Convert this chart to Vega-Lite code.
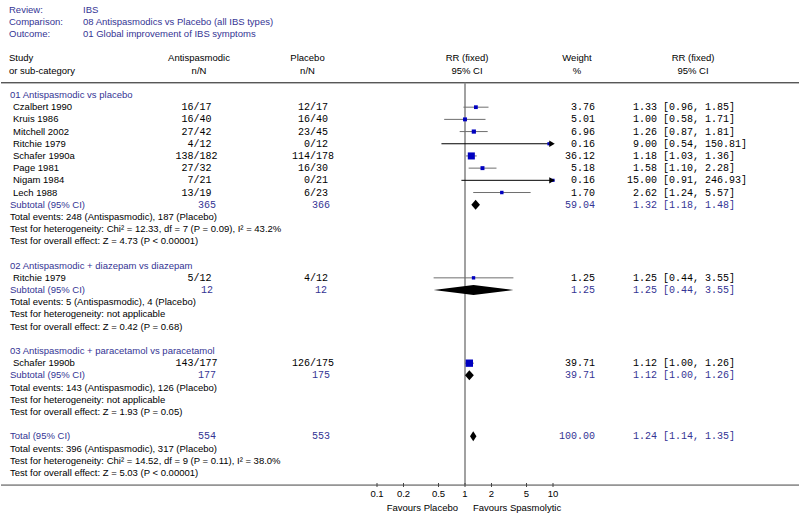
{
  "$schema": "https://vega.github.io/schema/vega-lite/v6.json",
  "width": 800,
  "height": 518,
  "autosize": {"type": "fit", "contains": "padding"},
  "padding": 0,
  "background": "white",
  "config": {
    "view": {"stroke": null},
    "text": {"font": "Liberation Sans", "fontSize": 9.5, "baseline": "middle"}
  },
  "datasets": {
    "table": [
      {"row": 0, "kind": "group", "label": "01 Antispasmodic vs placebo"},
      {"row": 1, "kind": "study", "label": "Czalbert 1990", "an": 16, "aN": 17, "pn": 12, "pN": 17, "w": 3.76, "est": 1.33, "lo": 0.96, "hi": 1.85, "ci": "[0.96, 1.85]"},
      {"row": 2, "kind": "study", "label": "Kruis 1986", "an": 16, "aN": 40, "pn": 16, "pN": 40, "w": 5.01, "est": 1.00, "lo": 0.58, "hi": 1.71, "ci": "[0.58, 1.71]"},
      {"row": 3, "kind": "study", "label": "Mitchell 2002", "an": 27, "aN": 42, "pn": 23, "pN": 45, "w": 6.96, "est": 1.26, "lo": 0.87, "hi": 1.81, "ci": "[0.87, 1.81]"},
      {"row": 4, "kind": "study", "label": "Ritchie 1979", "an": 4, "aN": 12, "pn": 0, "pN": 12, "w": 0.16, "est": 9.00, "lo": 0.54, "hi": 150.81, "ci": "[0.54, 150.81]"},
      {"row": 5, "kind": "study", "label": "Schafer 1990a", "an": 138, "aN": 182, "pn": 114, "pN": 178, "w": 36.12, "est": 1.18, "lo": 1.03, "hi": 1.36, "ci": "[1.03, 1.36]"},
      {"row": 6, "kind": "study", "label": "Page 1981", "an": 27, "aN": 32, "pn": 16, "pN": 30, "w": 5.18, "est": 1.58, "lo": 1.10, "hi": 2.28, "ci": "[1.10, 2.28]"},
      {"row": 7, "kind": "study", "label": "Nigam 1984", "an": 7, "aN": 21, "pn": 0, "pN": 21, "w": 0.16, "est": 15.00, "lo": 0.91, "hi": 246.93, "ci": "[0.91, 246.93]"},
      {"row": 8, "kind": "study", "label": "Lech 1988", "an": 13, "aN": 19, "pn": 6, "pN": 23, "w": 1.70, "est": 2.62, "lo": 1.24, "hi": 5.57, "ci": "[1.24, 5.57]"},
      {"row": 9, "kind": "sub", "label": "Subtotal (95% CI)", "aTot": 365, "pTot": 366, "w": 59.04, "est": 1.32, "lo": 1.18, "hi": 1.48, "ci": "[1.18, 1.48]"},
      {"row": 10, "kind": "info", "label": "Total events: 248 (Antispasmodic), 187 (Placebo)"},
      {"row": 11, "kind": "info", "label": "Test for heterogeneity: Chi² = 12.33, df = 7 (P = 0.09), I² = 43.2%"},
      {"row": 12, "kind": "info", "label": "Test for overall effect: Z = 4.73 (P < 0.00001)"},
      {"row": 14, "kind": "group", "label": "02 Antispasmodic + diazepam vs diazepam"},
      {"row": 15, "kind": "study", "label": "Ritchie 1979", "an": 5, "aN": 12, "pn": 4, "pN": 12, "w": 1.25, "est": 1.25, "lo": 0.44, "hi": 3.55, "ci": "[0.44, 3.55]"},
      {"row": 16, "kind": "sub", "label": "Subtotal (95% CI)", "aTot": 12, "pTot": 12, "w": 1.25, "est": 1.25, "lo": 0.44, "hi": 3.55, "ci": "[0.44, 3.55]"},
      {"row": 17, "kind": "info", "label": "Total events: 5 (Antispasmodic), 4 (Placebo)"},
      {"row": 18, "kind": "info", "label": "Test for heterogeneity: not applicable"},
      {"row": 19, "kind": "info", "label": "Test for overall effect: Z = 0.42 (P = 0.68)"},
      {"row": 21, "kind": "group", "label": "03 Antispasmodic + paracetamol vs paracetamol"},
      {"row": 22, "kind": "study", "label": "Schafer 1990b", "an": 143, "aN": 177, "pn": 126, "pN": 175, "w": 39.71, "est": 1.12, "lo": 1.00, "hi": 1.26, "ci": "[1.00, 1.26]"},
      {"row": 23, "kind": "sub", "label": "Subtotal (95% CI)", "aTot": 177, "pTot": 175, "w": 39.71, "est": 1.12, "lo": 1.00, "hi": 1.26, "ci": "[1.00, 1.26]"},
      {"row": 24, "kind": "info", "label": "Total events: 143 (Antispasmodic), 126 (Placebo)"},
      {"row": 25, "kind": "info", "label": "Test for heterogeneity: not applicable"},
      {"row": 26, "kind": "info", "label": "Test for overall effect: Z = 1.93 (P = 0.05)"},
      {"row": 28, "kind": "total", "label": "Total (95% CI)", "aTot": 554, "pTot": 553, "w": 100.00, "est": 1.24, "lo": 1.14, "hi": 1.35, "ci": "[1.14, 1.35]"},
      {"row": 29, "kind": "info", "label": "Total events: 396 (Antispasmodic), 317 (Placebo)"},
      {"row": 30, "kind": "info", "label": "Test for heterogeneity: Chi² = 14.52, df = 9 (P = 0.11), I² = 38.0%"},
      {"row": 31, "kind": "info", "label": "Test for overall effect: Z = 5.03 (P < 0.00001)"}
    ],
    "header": [
      {"row": -7, "k": "Review:", "v": "IBS"},
      {"row": -6, "k": "Comparison:", "v": "08 Antispasmodics vs Placebo (all IBS types)"},
      {"row": -5, "k": "Outcome:", "v": "01 Global improvement of  IBS symptoms"}
    ],
    "colhead": [
      {"row": -3, "s": "Study", "a": "Antispasmodic", "p": "Placebo", "r": "RR (fixed)", "w": "Weight", "r2": "RR (fixed)"},
      {"row": -2, "s": "or sub-category", "a": "n/N", "p": "n/N", "r": "95% CI", "w": "%", "r2": "95% CI"}
    ],
    "ticks": [
      {"t": 0.1}, {"t": 0.2}, {"t": 0.5}, {"t": 1}, {"t": 2}, {"t": 5}, {"t": 10}
    ]
  },
  "layer": [
    {
      "data": {"values": [{}]},
      "mark": {"type": "rule", "color": "#111111", "strokeWidth": 1},
      "encoding": {"y": {"datum": -1, "type": "quantitative", "scale": {"domain": [-7.793, 34.701], "reverse": true, "nice": false, "zero": false}, "axis": null}}
    },
    {
      "data": {"values": [{}]},
      "mark": {"type": "rule", "color": "#444444", "strokeWidth": 1},
      "encoding": {"y": {"datum": 32, "type": "quantitative", "scale": {"domain": [-7.793, 34.701], "reverse": true, "nice": false, "zero": false}, "axis": null}}
    },
    {
      "data": {"values": [{}]},
      "mark": {"type": "rule", "color": "#8a8a8a", "strokeWidth": 1.6},
      "encoding": {
        "x": {"datum": 1, "type": "quantitative", "scale": {"type": "log", "domain": [0.1, 10], "range": [376, 552], "clamp": true}, "axis": null},
        "y": {"datum": -1, "type": "quantitative", "scale": {"domain": [-7.793, 34.701], "reverse": true, "nice": false, "zero": false}, "axis": null},
        "y2": {"datum": 32}
      }
    },
    {
      "data": {"name": "ticks"},
      "mark": {"type": "tick", "orient": "vertical", "size": 4, "thickness": 1, "color": "#444444", "opacity": 1},
      "encoding": {
        "x": {"field": "t", "type": "quantitative", "scale": {"type": "log", "domain": [0.1, 10], "range": [376, 552], "clamp": true}, "axis": null},
        "y": {"datum": 32, "type": "quantitative", "scale": {"domain": [-7.793, 34.701], "reverse": true, "nice": false, "zero": false}, "axis": null}
      }
    },
    {
      "data": {"name": "ticks"},
      "mark": {"type": "text", "align": "center", "dy": 8.5, "color": "#000000"},
      "encoding": {
        "x": {"field": "t", "type": "quantitative", "scale": {"type": "log", "domain": [0.1, 10], "range": [376, 552], "clamp": true}, "axis": null},
        "y": {"datum": 32, "type": "quantitative", "scale": {"domain": [-7.793, 34.701], "reverse": true, "nice": false, "zero": false}, "axis": null},
        "text": {"field": "t", "type": "nominal"}
      }
    },
    {
      "data": {"values": [{}]},
      "mark": {"type": "text", "align": "right", "dx": -7, "dy": 23, "color": "#000000"},
      "encoding": {
        "x": {"datum": 1, "type": "quantitative", "scale": {"type": "log", "domain": [0.1, 10], "range": [376, 552], "clamp": true}, "axis": null},
        "y": {"datum": 32, "type": "quantitative", "scale": {"domain": [-7.793, 34.701], "reverse": true, "nice": false, "zero": false}, "axis": null},
        "text": {"value": "Favours Placebo"}
      }
    },
    {
      "data": {"values": [{}]},
      "mark": {"type": "text", "align": "left", "dx": 8, "dy": 23, "color": "#000000"},
      "encoding": {
        "x": {"datum": 1, "type": "quantitative", "scale": {"type": "log", "domain": [0.1, 10], "range": [376, 552], "clamp": true}, "axis": null},
        "y": {"datum": 32, "type": "quantitative", "scale": {"domain": [-7.793, 34.701], "reverse": true, "nice": false, "zero": false}, "axis": null},
        "text": {"value": "Favours Spasmolytic"}
      }
    },
    {
      "data": {"name": "table"},
      "transform": [{"filter": "datum.kind === 'study'"}],
      "mark": {"type": "rule", "strokeWidth": 1},
      "encoding": {
        "x": {"field": "lo", "type": "quantitative", "scale": {"type": "log", "domain": [0.1, 10], "range": [376, 552], "clamp": true}, "axis": null},
        "x2": {"field": "hi"},
        "y": {"field": "row", "type": "quantitative", "scale": {"domain": [-7.793, 34.701], "reverse": true, "nice": false, "zero": false}, "axis": null},
        "color": {"condition": {"test": "datum.hi > 10", "value": "#000000"}, "value": "#6e6e6e"}
      }
    },
    {
      "data": {"name": "table"},
      "transform": [{"filter": "datum.kind === 'study'"}],
      "mark": {"type": "point", "shape": "square", "filled": true, "opacity": 1, "color": "#0000c0"},
      "encoding": {
        "x": {"field": "est", "type": "quantitative", "scale": {"type": "log", "domain": [0.1, 10], "range": [376, 552], "clamp": true}, "axis": null},
        "y": {"field": "row", "type": "quantitative", "scale": {"domain": [-7.793, 34.701], "reverse": true, "nice": false, "zero": false}, "axis": null},
        "size": {"field": "w", "type": "quantitative", "scale": {"domain": [0, 40], "range": [10, 54]}, "legend": null}
      }
    },
    {
      "data": {"name": "table"},
      "transform": [{"filter": "datum.kind === 'study' && datum.hi > 10"}],
      "mark": {"type": "point", "shape": "triangle-right", "filled": true, "opacity": 1, "color": "#000000", "size": 40, "xOffset": -1},
      "encoding": {
        "x": {"field": "hi", "type": "quantitative", "scale": {"type": "log", "domain": [0.1, 10], "range": [376, 552], "clamp": true}, "axis": null},
        "y": {"field": "row", "type": "quantitative", "scale": {"domain": [-7.793, 34.701], "reverse": true, "nice": false, "zero": false}, "axis": null}
      }
    },
    {
      "data": {"name": "table"},
      "transform": [
        {"filter": "datum.kind === 'sub' || datum.kind === 'total'"},
        {"fold": ["lo", "est", "hi"], "as": ["key", "v"]}
      ],
      "mark": {
        "type": "area", "orient": "vertical", "color": "#000000", "opacity": 1,
        "yOffset": {"expr": "datum.key === 'est' ? -5 : 0"},
        "y2Offset": {"expr": "datum.key === 'est' ? 5 : 0"}
      },
      "encoding": {
        "x": {"field": "v", "type": "quantitative", "scale": {"type": "log", "domain": [0.1, 10], "range": [376, 552], "clamp": true}, "axis": null},
        "y": {"field": "row", "type": "quantitative", "scale": {"domain": [-7.793, 34.701], "reverse": true, "nice": false, "zero": false}, "axis": null},
        "y2": {"field": "row"},
        "detail": {"field": "row", "type": "nominal"}
      }
    },
    {
      "data": {"name": "header"},
      "mark": {"type": "text", "align": "left", "color": "#343494"},
      "encoding": {
        "x": {"value": 8},
        "y": {"field": "row", "type": "quantitative", "scale": {"domain": [-7.793, 34.701], "reverse": true, "nice": false, "zero": false}, "axis": null},
        "text": {"field": "k", "type": "nominal"}
      }
    },
    {
      "data": {"name": "header"},
      "mark": {"type": "text", "align": "left", "color": "#343494"},
      "encoding": {
        "x": {"value": 82},
        "y": {"field": "row", "type": "quantitative", "scale": {"domain": [-7.793, 34.701], "reverse": true, "nice": false, "zero": false}, "axis": null},
        "text": {"field": "v", "type": "nominal"}
      }
    },
    {
      "data": {"name": "colhead"},
      "mark": {"type": "text", "align": "left", "color": "#000000"},
      "encoding": {
        "x": {"value": 8},
        "y": {"field": "row", "type": "quantitative", "scale": {"domain": [-7.793, 34.701], "reverse": true, "nice": false, "zero": false}, "axis": null},
        "text": {"field": "s", "type": "nominal"}
      }
    },
    {
      "data": {"name": "colhead"},
      "mark": {"type": "text", "align": "center", "color": "#000000"},
      "encoding": {
        "x": {"value": 198},
        "y": {"field": "row", "type": "quantitative", "scale": {"domain": [-7.793, 34.701], "reverse": true, "nice": false, "zero": false}, "axis": null},
        "text": {"field": "a", "type": "nominal"}
      }
    },
    {
      "data": {"name": "colhead"},
      "mark": {"type": "text", "align": "center", "color": "#000000"},
      "encoding": {
        "x": {"value": 306.5},
        "y": {"field": "row", "type": "quantitative", "scale": {"domain": [-7.793, 34.701], "reverse": true, "nice": false, "zero": false}, "axis": null},
        "text": {"field": "p", "type": "nominal"}
      }
    },
    {
      "data": {"name": "colhead"},
      "mark": {"type": "text", "align": "center", "color": "#000000"},
      "encoding": {
        "x": {"value": 466},
        "y": {"field": "row", "type": "quantitative", "scale": {"domain": [-7.793, 34.701], "reverse": true, "nice": false, "zero": false}, "axis": null},
        "text": {"field": "r", "type": "nominal"}
      }
    },
    {
      "data": {"name": "colhead"},
      "mark": {"type": "text", "align": "center", "color": "#000000"},
      "encoding": {
        "x": {"value": 576},
        "y": {"field": "row", "type": "quantitative", "scale": {"domain": [-7.793, 34.701], "reverse": true, "nice": false, "zero": false}, "axis": null},
        "text": {"field": "w", "type": "nominal"}
      }
    },
    {
      "data": {"name": "colhead"},
      "mark": {"type": "text", "align": "center", "color": "#000000"},
      "encoding": {
        "x": {"value": 692},
        "y": {"field": "row", "type": "quantitative", "scale": {"domain": [-7.793, 34.701], "reverse": true, "nice": false, "zero": false}, "axis": null},
        "text": {"field": "r2", "type": "nominal"}
      }
    },
    {
      "data": {"name": "table"},
      "transform": [{"filter": "datum.kind !== 'study'"}],
      "mark": {"type": "text", "align": "left"},
      "encoding": {
        "x": {"value": 9},
        "y": {"field": "row", "type": "quantitative", "scale": {"domain": [-7.793, 34.701], "reverse": true, "nice": false, "zero": false}, "axis": null},
        "text": {"field": "label", "type": "nominal"},
        "color": {"condition": {"test": "datum.kind === 'info'", "value": "#000000"}, "value": "#343494"}
      }
    },
    {
      "data": {"name": "table"},
      "transform": [{"filter": "datum.kind === 'study'"}],
      "mark": {"type": "text", "align": "left", "color": "#000000"},
      "encoding": {
        "x": {"value": 12},
        "y": {"field": "row", "type": "quantitative", "scale": {"domain": [-7.793, 34.701], "reverse": true, "nice": false, "zero": false}, "axis": null},
        "text": {"field": "label", "type": "nominal"}
      }
    },
    {
      "data": {"name": "table"},
      "transform": [{"filter": "datum.kind === 'study'"}],
      "mark": {"type": "text", "align": "right", "font": "Liberation Mono", "fontSize": 10, "color": "#000000"},
      "encoding": {
        "x": {"value": 192.5},
        "y": {"field": "row", "type": "quantitative", "scale": {"domain": [-7.793, 34.701], "reverse": true, "nice": false, "zero": false}, "axis": null},
        "text": {"field": "an", "type": "nominal"}
      }
    },
    {
      "data": {"name": "table"},
      "transform": [{"filter": "datum.kind === 'study'"}],
      "mark": {"type": "text", "align": "left", "font": "Liberation Mono", "fontSize": 10, "color": "#000000"},
      "encoding": {
        "x": {"value": 192.5},
        "y": {"field": "row", "type": "quantitative", "scale": {"domain": [-7.793, 34.701], "reverse": true, "nice": false, "zero": false}, "axis": null},
        "text": {"value": "/"}
      }
    },
    {
      "data": {"name": "table"},
      "transform": [{"filter": "datum.kind === 'study'"}],
      "mark": {"type": "text", "align": "left", "font": "Liberation Mono", "fontSize": 10, "color": "#000000"},
      "encoding": {
        "x": {"value": 198.5},
        "y": {"field": "row", "type": "quantitative", "scale": {"domain": [-7.793, 34.701], "reverse": true, "nice": false, "zero": false}, "axis": null},
        "text": {"field": "aN", "type": "nominal"}
      }
    },
    {
      "data": {"name": "table"},
      "transform": [{"filter": "datum.kind === 'study'"}],
      "mark": {"type": "text", "align": "right", "font": "Liberation Mono", "fontSize": 10, "color": "#000000"},
      "encoding": {
        "x": {"value": 309},
        "y": {"field": "row", "type": "quantitative", "scale": {"domain": [-7.793, 34.701], "reverse": true, "nice": false, "zero": false}, "axis": null},
        "text": {"field": "pn", "type": "nominal"}
      }
    },
    {
      "data": {"name": "table"},
      "transform": [{"filter": "datum.kind === 'study'"}],
      "mark": {"type": "text", "align": "left", "font": "Liberation Mono", "fontSize": 10, "color": "#000000"},
      "encoding": {
        "x": {"value": 309},
        "y": {"field": "row", "type": "quantitative", "scale": {"domain": [-7.793, 34.701], "reverse": true, "nice": false, "zero": false}, "axis": null},
        "text": {"value": "/"}
      }
    },
    {
      "data": {"name": "table"},
      "transform": [{"filter": "datum.kind === 'study'"}],
      "mark": {"type": "text", "align": "left", "font": "Liberation Mono", "fontSize": 10, "color": "#000000"},
      "encoding": {
        "x": {"value": 315},
        "y": {"field": "row", "type": "quantitative", "scale": {"domain": [-7.793, 34.701], "reverse": true, "nice": false, "zero": false}, "axis": null},
        "text": {"field": "pN", "type": "nominal"}
      }
    },
    {
      "data": {"name": "table"},
      "transform": [{"filter": "datum.kind === 'sub' || datum.kind === 'total'"}],
      "mark": {"type": "text", "align": "center", "font": "Liberation Mono", "fontSize": 10, "color": "#343494"},
      "encoding": {
        "x": {"value": 206},
        "y": {"field": "row", "type": "quantitative", "scale": {"domain": [-7.793, 34.701], "reverse": true, "nice": false, "zero": false}, "axis": null},
        "text": {"field": "aTot", "type": "nominal"}
      }
    },
    {
      "data": {"name": "table"},
      "transform": [{"filter": "datum.kind === 'sub' || datum.kind === 'total'"}],
      "mark": {"type": "text", "align": "center", "font": "Liberation Mono", "fontSize": 10, "color": "#343494"},
      "encoding": {
        "x": {"value": 320},
        "y": {"field": "row", "type": "quantitative", "scale": {"domain": [-7.793, 34.701], "reverse": true, "nice": false, "zero": false}, "axis": null},
        "text": {"field": "pTot", "type": "nominal"}
      }
    },
    {
      "data": {"name": "table"},
      "transform": [{"filter": "isValid(datum.w)"}],
      "mark": {"type": "text", "align": "right", "font": "Liberation Mono", "fontSize": 10},
      "encoding": {
        "x": {"value": 594},
        "y": {"field": "row", "type": "quantitative", "scale": {"domain": [-7.793, 34.701], "reverse": true, "nice": false, "zero": false}, "axis": null},
        "text": {"field": "w", "type": "quantitative", "format": ".2f"},
        "color": {"condition": {"test": "datum.kind === 'study'", "value": "#000000"}, "value": "#343494"}
      }
    },
    {
      "data": {"name": "table"},
      "transform": [{"filter": "isValid(datum.est)"}],
      "mark": {"type": "text", "align": "right", "font": "Liberation Mono", "fontSize": 10},
      "encoding": {
        "x": {"value": 656},
        "y": {"field": "row", "type": "quantitative", "scale": {"domain": [-7.793, 34.701], "reverse": true, "nice": false, "zero": false}, "axis": null},
        "text": {"field": "est", "type": "quantitative", "format": ".2f"},
        "color": {"condition": {"test": "datum.kind === 'study'", "value": "#000000"}, "value": "#343494"}
      }
    },
    {
      "data": {"name": "table"},
      "transform": [{"filter": "isValid(datum.ci)"}],
      "mark": {"type": "text", "align": "left", "font": "Liberation Mono", "fontSize": 10},
      "encoding": {
        "x": {"value": 662},
        "y": {"field": "row", "type": "quantitative", "scale": {"domain": [-7.793, 34.701], "reverse": true, "nice": false, "zero": false}, "axis": null},
        "text": {"field": "ci", "type": "nominal"},
        "color": {"condition": {"test": "datum.kind === 'study'", "value": "#000000"}, "value": "#343494"}
      }
    }
  ]
}
